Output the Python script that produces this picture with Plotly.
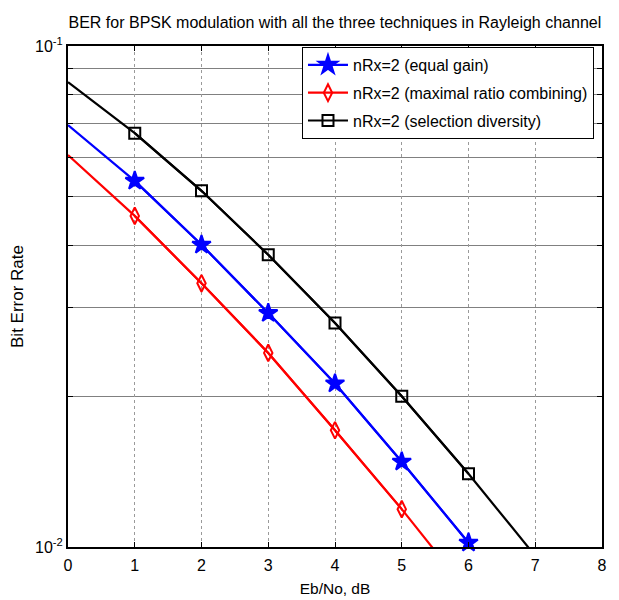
import plotly.graph_objects as go

# ---- data ----
ebno = [0, 1, 2, 3, 4, 5, 6, 7]
ber_egc = [0.0695, 0.0538, 0.0401, 0.0293, 0.0212, 0.0148, 0.0102, 0.0069]
ber_mrc = [0.0606, 0.0458, 0.0336, 0.0244, 0.0171, 0.0119, 0.0081, 0.0054]
ber_sel = [0.0847, 0.0670, 0.0514, 0.0383, 0.0280, 0.0200, 0.0140, 0.0096]

# marker points (index ranges into the arrays above)
mk_egc = slice(1, 7)
mk_mrc = slice(1, 6)
mk_sel = slice(1, 7)

names = ["nRx=2 (equal gain)", "nRx=2 (maximal ratio combining)", "nRx=2 (selection diversity)"]
colors = ["#0000ff", "#ff0000", "#000000"]
symbols = ["star", "diamond-tall-open", "square-open"]
sizes = [14, 12, 11]

y_ticks = [0.01, 0.1]
y_text = ["10<sup>-2</sup>", "10<sup>-1</sup>"]
y_minor = [0.02, 0.03, 0.04, 0.05, 0.06, 0.07, 0.08, 0.09]
x_ticks = [0, 1, 2, 3, 4, 5, 6, 7, 8]

fig = go.Figure()
series = [(ber_egc, mk_egc), (ber_mrc, mk_mrc), (ber_sel, mk_sel)]
for i, (ys, mk) in enumerate(series):
    fig.add_trace(go.Scatter(x=ebno, y=ys, mode="lines", line=dict(color=colors[i], width=2.2),
                             showlegend=False, legendgroup=str(i), hoverinfo="skip"))
    fig.add_trace(go.Scatter(x=ebno[mk], y=ys[mk], mode="lines+markers", name=names[i],
                             legendgroup=str(i), cliponaxis=False,
                             line=dict(color=colors[i], width=2.2),
                             marker=dict(symbol=symbols[i], size=sizes[i], color=colors[i],
                                         line=dict(color=colors[i], width=2))))

font = "Liberation Sans, Arial, sans-serif"
fig.update_layout(
    width=611, height=592,
    margin=dict(l=60, r=17, t=38, b=53),
    paper_bgcolor="white", plot_bgcolor="white",
    font=dict(family=font, size=14, color="black"),
    title=dict(text="BER for BPSK modulation with all the three techniques in Rayleigh channel",
               x=0.535, xanchor="center", y=0.985, yanchor="top",
               pad=dict(t=0),
               font=dict(size=16, family=font)),
    legend=dict(x=0.985, xanchor="right", y=0.998, yanchor="top",
                bgcolor="white", bordercolor="black", borderwidth=1,
                font=dict(size=16, family=font), tracegroupgap=4,
                traceorder="grouped", itemwidth=40),
)
fig.update_xaxes(range=[0, 8], tickvals=x_ticks, ticks="inside", ticklen=5, tickcolor="black",
                 showline=True, linecolor="black", linewidth=2, mirror="ticks",
                 showgrid=True, gridcolor="#9a9a9a", griddash="dot", gridwidth=1,
                 zeroline=False, tickfont=dict(size=16), automargin=False,
                 ticklabelstandoff=3,
                 title=dict(text="Eb/No, dB", font=dict(size=15.5), standoff=10))
fig.update_yaxes(type="log", range=[-2, -1], tickvals=y_ticks, ticktext=y_text,
                 ticks="inside", ticklen=5, tickcolor="black",
                 showline=True, linecolor="black", linewidth=2, mirror="ticks",
                 showgrid=True, gridcolor="#808080", gridwidth=1,
                 minor=dict(tickvals=y_minor, ticks="inside", ticklen=5, tickcolor="black",
                            showgrid=True, gridcolor="#808080", gridwidth=1),
                 zeroline=False, tickfont=dict(size=16), automargin=False,
                 title=dict(text="Bit Error Rate", font=dict(size=17), standoff=8))

fig.write_html("out.html")
